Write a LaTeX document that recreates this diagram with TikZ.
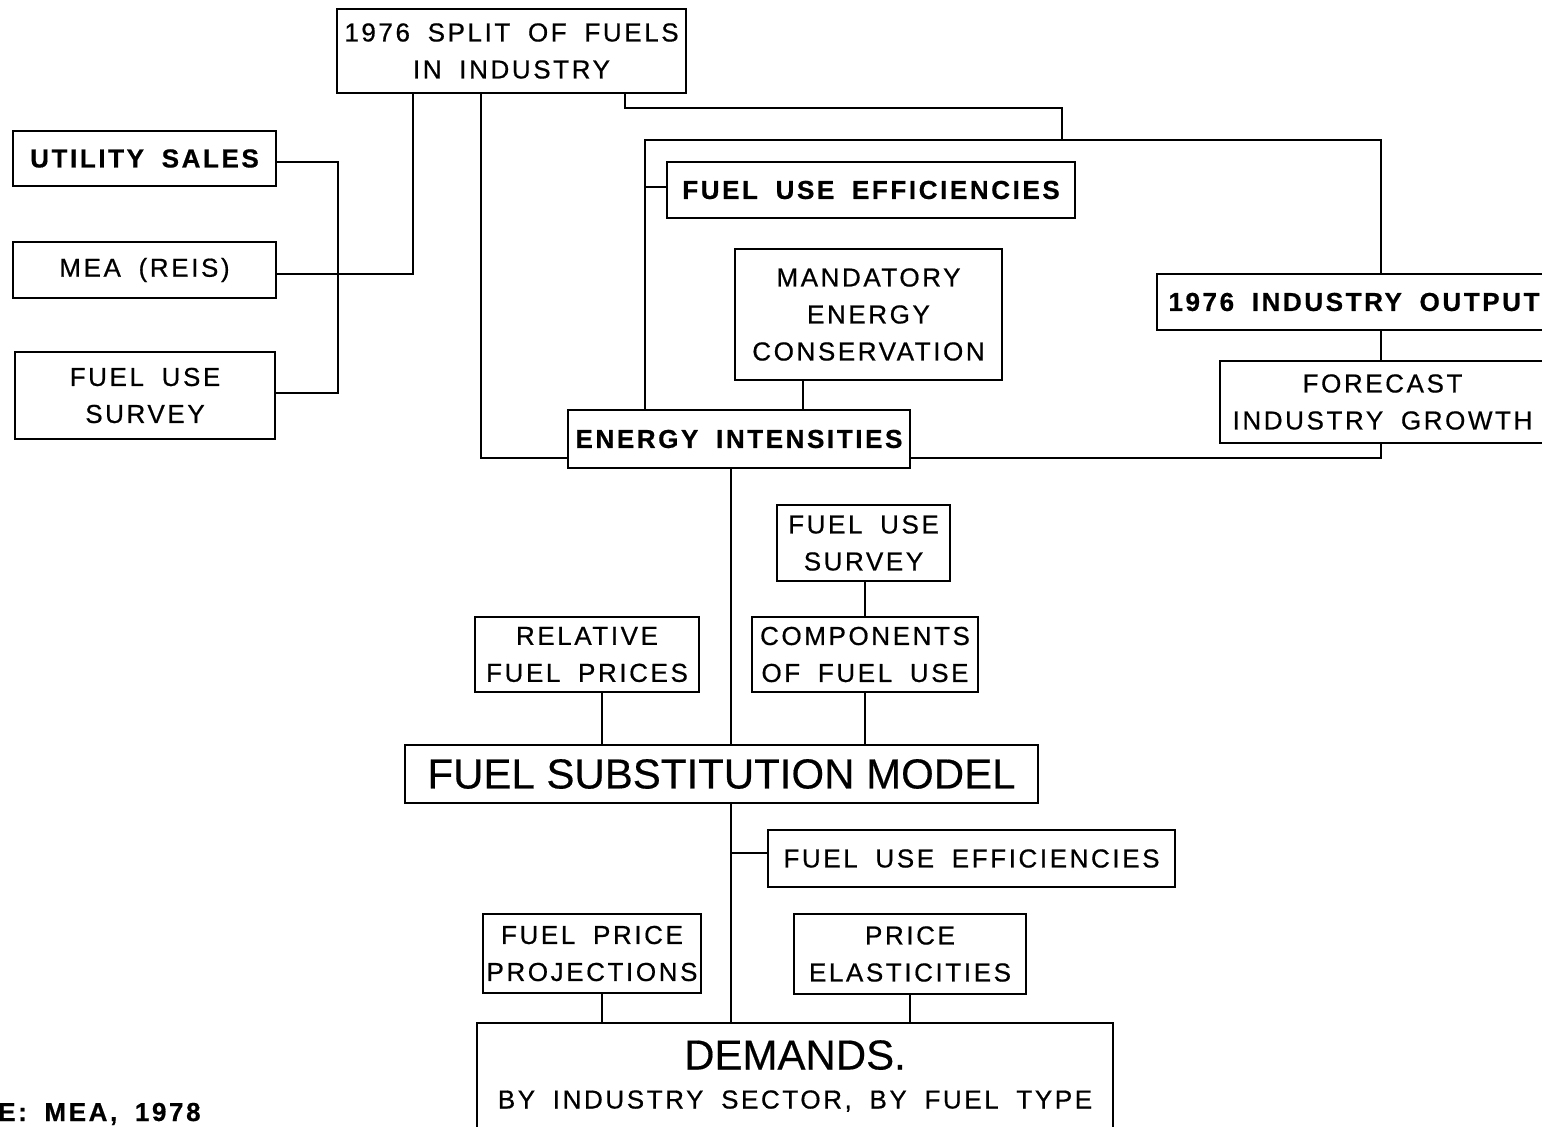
\documentclass[tikz,border=0pt]{standalone}
\usepackage{fontspec}
\setmainfont{Liberation Sans}[LetterSpace=10,WordSpace=1.8,FakeBold=0.6]
\newfontfamily\bigfont{Liberation Sans}[WordSpace=1.0,FakeBold=0.4]
\begin{document}
\begin{tikzpicture}[x=1pt,y=-1pt,
  box/.style={draw,line width=2.6pt,inner sep=0pt,align=center,
    font=\fontsize{26}{37}\selectfont},
  boldbox/.style={box,font=\fontsize{26}{37}\selectfont\bfseries},
  bigbox/.style={box,font=\fontsize{42}{50}\selectfont\bigfont},
  link/.style={line width=2.6pt}]
\clip (0,0) rectangle (1542,1127);
\fill[white] (0,0) rectangle (1542,1127);

% nodes
\node[box,minimum width=349,minimum height=84] (split) at (511.5,51) {1976 SPLIT OF FUELS\\IN INDUSTRY};
\node[boldbox,minimum width=263,minimum height=55] (util) at (144.5,158.5) {UTILITY SALES};
\node[box,minimum width=263,minimum height=56] (mea) at (144.5,270) {MEA (REIS)};
\node[box,minimum width=260,minimum height=87] (fus1) at (145,395.5) {FUEL USE\\SURVEY};
\node[boldbox,minimum width=408,minimum height=56] (fue1) at (871,190) {FUEL USE EFFICIENCIES};
\node[box,minimum width=267,minimum height=131] (mand) at (868.5,314.5) {MANDATORY\\ENERGY\\CONSERVATION};
\node[boldbox,minimum width=394,minimum height=56] (iout) at (1354,302) {1976 INDUSTRY OUTPUT};
\node[box,minimum width=325,minimum height=82] (fore) at (1382.5,402) {FORECAST\\INDUSTRY GROWTH};
\node[boldbox,minimum width=342,minimum height=58] (ener) at (739,439) {ENERGY INTENSITIES};
\node[box,minimum width=173,minimum height=76] (fus2) at (863.5,543) {FUEL USE\\SURVEY};
\node[box,minimum width=226,minimum height=75] (comp) at (865,654.5) {COMPONENTS\\OF FUEL USE};
\node[box,minimum width=224,minimum height=75] (relp) at (587,654.5) {RELATIVE\\FUEL PRICES};
\node[bigbox,minimum width=633,minimum height=58] (fsm) at (721.5,774) {FUEL SUBSTITUTION MODEL};
\node[box,minimum width=407,minimum height=57] (fue2) at (971.5,858.5) {FUEL USE EFFICIENCIES};
\node[box,minimum width=218,minimum height=79] (fpp) at (592,953.5) {FUEL PRICE\\PROJECTIONS};
\node[box,minimum width=232,minimum height=80] (pel) at (910,954) {PRICE\\ELASTICITIES};
\node[box,minimum width=636,minimum height=106] (dem) at (795,1076)
  {{\bigfont\fontsize{42}{44}\selectfont DEMANDS.}\\[2pt]BY INDUSTRY SECTOR, BY FUEL TYPE};
\node[anchor=base west,inner sep=0pt,font=\fontsize{26}{30}\selectfont\bfseries] (src) at (-2,1121) {E: MEA, 1978};

% junction coordinates
\coordinate (j1) at (413,274);
\coordinate (j2) at (338,162);
\coordinate (j3) at (338,393);
\coordinate (j4) at (481,458);
\coordinate (j5) at (625,108);
\coordinate (j6) at (1062,108);
\coordinate (j7) at (1062,140);
\coordinate (j8) at (645,140);
\coordinate (j9) at (1381,140);
\coordinate (j10) at (645,187);
\coordinate (j11) at (803,0);
\coordinate (j12) at (1381,458);
\coordinate (j13) at (731,0);
\coordinate (j14) at (865,0);
\coordinate (j15) at (602,0);
\coordinate (j16) at (731,853);
\coordinate (j17) at (910,0);

% connectors
\draw[link] (split.south -| j1) -- (j1) -- (mea.east |- j1);
\draw[link] (util.east |- j2) -- (j2) -- (j3) -- (fus1.east |- j3);
\draw[link] (split.south -| j4) -- (j4) -- (ener.west |- j4);
\draw[link] (split.south -| j5) -- (j5) -- (j6) -- (j7);
\draw[link] (ener.north -| j8) -- (j8) -- (j9) -- (iout.north -| j9);
\draw[link] (j10) -- (fue1.west |- j10);
\draw[link] (mand.south -| j11) -- (ener.north -| j11);
\draw[link] (iout.south -| j9) -- (fore.north -| j9);
\draw[link] (fore.south -| j12) -- (j12) -- (ener.east |- j12);
\draw[link] (ener.south -| j13) -- (fsm.north -| j13);
\draw[link] (fus2.south -| j14) -- (comp.north -| j14);
\draw[link] (comp.south -| j14) -- (fsm.north -| j14);
\draw[link] (relp.south -| j15) -- (fsm.north -| j15);
\draw[link] (fsm.south -| j13) -- (dem.north -| j13);
\draw[link] (j16) -- (fue2.west |- j16);
\draw[link] (fpp.south -| j15) -- (dem.north -| j15);
\draw[link] (pel.south -| j17) -- (dem.north -| j17);
\end{tikzpicture}
\end{document}
